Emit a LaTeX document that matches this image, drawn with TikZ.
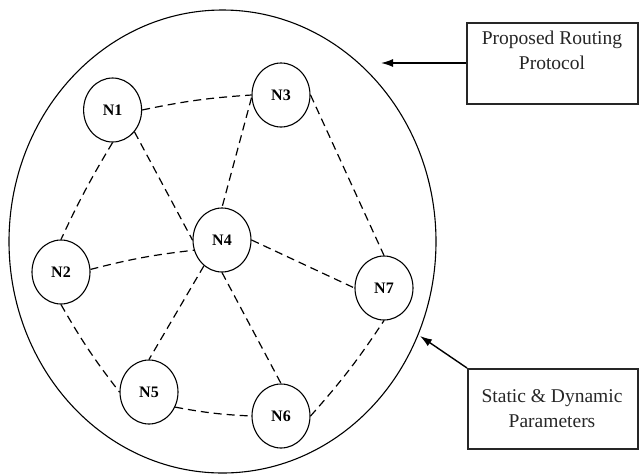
\documentclass[tikz,border=0pt]{standalone}
\usepackage{fontspec}
\setmainfont{Liberation Serif}
\usetikzlibrary{shapes.geometric,arrows.meta}
\begin{document}
\begin{tikzpicture}[x=1pt,y=1pt,
  nd/.style={draw, line width=1.1pt, ellipse, minimum width=58pt, minimum height=64pt, inner sep=0pt, font=\fontsize{16}{18}\selectfont\bfseries},
  lnk/.style={dashed, dash pattern=on 8pt off 5pt, line width=1.2pt},
  infobox/.style={draw=black!85, line width=1.5pt, minimum width=171pt, minimum height=81pt, anchor=north west, inner sep=0pt},
  infotext/.style={text=black!85, anchor=base, inner sep=0pt, font=\fontsize{19.5}{25}\selectfont},
  arr/.style={line width=1.4pt, -{Latex[length=12pt,width=8pt]}}]
\useasboundingbox (0,0) rectangle (640,-475);
\node[draw, line width=1.1pt, ellipse, minimum width=427pt, minimum height=463pt, inner sep=0pt] (net) at (222.5,-241.5) {};
\node[nd] (N1) at (112.6,-110) {N1};
\node[nd] (N3) at (281,-95) {N3};
\node[nd] (N2) at (61,-272) {N2};
\node[nd] (N4) at (222,-240) {N4};
\node[nd] (N7) at (384,-288) {N7};
\node[nd] (N5) at (149,-392) {N5};
\node[nd] (N6) at (281,-416) {N6};
\draw[lnk] (N1.0) to[bend left=4] (N3.180);
\draw[lnk] (N1.270) to[bend right=3] (N2.90);
\draw[lnk] (N1.-45) -- (N4.180);
\draw[lnk] (N3.185) -- (N4.90);
\draw[lnk] (N3.0) -- (N7.90);
\draw[lnk] (N2.5) to[bend left=4] (N4.200);
\draw[lnk] (N4.0) -- (N7.180);
\draw[lnk] (N4.235) -- (N5.90);
\draw[lnk] (N4.270) -- (N6.90);
\draw[lnk] (N2.270) to[bend right=4] (N5.180);
\draw[lnk] (N5.-30) to[bend right=4] (N6.180);
\draw[lnk] (N6.0) to[bend right=4] (N7.270);
\node[infobox] (prp) at (466,-22) {};
\node[infotext] (prp1) at (552,-44) {Proposed Routing};
\node[infotext] (prp2) at (552,-69) {Protocol};
\node[infobox, minimum width=170pt, minimum height=80pt] (sdp) at (467,-368) {};
\node[infotext] (sdp1) at (552,-402) {Static \& Dynamic};
\node[infotext] (sdp2) at (552,-427) {Parameters};
\coordinate (t1) at (381,-63);
\coordinate (t2) at (420,-336);
\draw[arr] (prp.west |- t1) -- (t1);
\draw[arr] (sdp.north west) -- (t2);
\end{tikzpicture}
\end{document}
